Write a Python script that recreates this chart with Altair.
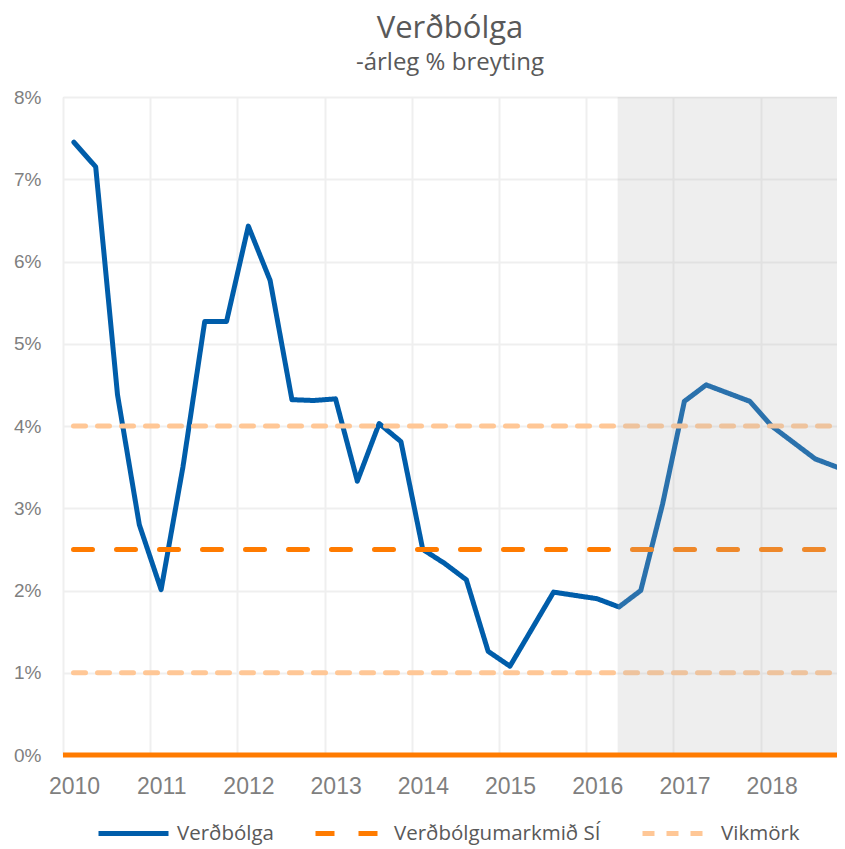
import altair as alt
import pandas as pd

# Quarterly observations / forecast (decimal year, annual % change)
quarters = [2010.125, 2010.375, 2010.625, 2010.875,
            2011.125, 2011.375, 2011.625, 2011.875,
            2012.125, 2012.375, 2012.625, 2012.875,
            2013.125, 2013.375, 2013.625, 2013.875,
            2014.125, 2014.375, 2014.625, 2014.875,
            2015.125, 2015.375, 2015.625, 2015.875,
            2016.125, 2016.375, 2016.625, 2016.875,
            2017.125, 2017.375, 2017.625, 2017.875,
            2018.125, 2018.375, 2018.625, 2018.875]
inflation = [7.45, 7.15, 4.38, 2.80,
             2.01, 3.50, 5.27, 5.27,
             6.43, 5.77, 4.32, 4.31,
             4.33, 3.33, 4.03, 3.81,
             2.50, 2.33, 2.13, 1.26,
             1.08, 1.53, 1.98, 1.94,
             1.90, 1.80, 2.00, 3.05,
             4.30, 4.50, 4.40, 4.30,
             4.00, 3.80, 3.60, 3.50]

series_names = ["Verðbólga", "Verðbólgumarkmið SÍ", "Vikmörk"]
series_colors = ["#005DAA", "#FF7B00", "#FFC796"]
series_dash = [[1, 0], [19, 24], [12, 12]]

target_value = 2.5
band_lower = 1.0
band_upper = 4.0
zero_value = [0.0]
forecast_start = [2016.36]
x_domain = [2010, 2018.875]
y_domain = [0, 8]
year_ticks = [2010, 2011, 2012, 2013, 2014, 2015, 2016, 2017, 2018]
pct_ticks = [0, 1, 2, 3, 4, 5, 6, 7, 8]

df_infl = pd.DataFrame({"x": quarters, "v": inflation, "series": series_names[0]})
df_target = pd.DataFrame({"x": x_domain, "v": [target_value, target_value], "series": series_names[1]})
df_band = pd.DataFrame({
    "x": x_domain + x_domain,
    "v": [band_lower, band_lower, band_upper, band_upper],
    "grp": ["low", "low", "high", "high"],
    "series": series_names[2],
})
df_shade = pd.DataFrame({"start": forecast_start, "end": [x_domain[1]], "lo": [y_domain[0]], "hi": [y_domain[1]]})
df_zero = pd.DataFrame({"v": zero_value})

label_font = "Liberation Sans"
text_font = "Open Sans"

x_axis = alt.Axis(values=year_ticks, format="d", title=None, grid=True, gridColor="#EFEFEF",
                  gridWidth=2, ticks=False, domain=False, labelFont=label_font, labelFontSize=23,
                  labelColor="#7F7F7F", labelPadding=20, labelOffset=11, labelFlush=False,
                  labelOverlap=False)
y_axis = alt.Axis(values=pct_ticks, labelExpr="datum.value + '%'", title=None, grid=True,
                  gridColor="#EFEFEF", gridWidth=2, ticks=False, domain=False, labelFont=label_font,
                  labelFontSize=19, labelColor="#7F7F7F", labelPadding=22, labelFlush=False)
x_scale = alt.Scale(domain=x_domain, nice=False, zero=False)
y_scale = alt.Scale(domain=y_domain, nice=False)

color_enc = alt.Color("series:N", title=None,
                      scale=alt.Scale(domain=series_names, range=series_colors),
                      legend=alt.Legend(orient="none", legendX=33, legendY=699, direction="horizontal",
                                        columns=3, symbolType="stroke", symbolSize=4900,
                                        symbolStrokeWidth=5, labelFont=text_font, labelFontSize=20.5,
                                        labelColor="#595959", labelOffset=6, columnPadding=31,
                                        labelLimit=400))
dash_enc = alt.StrokeDash("series:N", title=None,
                          scale=alt.Scale(domain=series_names, range=series_dash))

line = alt.Chart(df_infl).mark_line(strokeWidth=5, strokeJoin="round", strokeCap="round").encode(
    x=alt.X("x:Q", scale=x_scale, axis=x_axis),
    y=alt.Y("v:Q", scale=y_scale, axis=y_axis),
    color=color_enc,
    strokeDash=dash_enc,
)

target = alt.Chart(df_target).mark_line(strokeWidth=5, strokeCap="round", strokeDashOffset=32.5).encode(
    x=alt.X("x:Q", scale=x_scale, axis=x_axis),
    y=alt.Y("v:Q", scale=y_scale, axis=y_axis),
    color=color_enc,
    strokeDash=dash_enc,
)

band = alt.Chart(df_band).mark_line(strokeWidth=5, strokeCap="round", strokeDashOffset=13.5).encode(
    x=alt.X("x:Q", scale=x_scale, axis=x_axis),
    y=alt.Y("v:Q", scale=y_scale, axis=y_axis),
    detail="grp:N",
    color=color_enc,
    strokeDash=dash_enc,
)

shade = alt.Chart(df_shade).mark_rect(fill="#B6B6B6", opacity=0.23).encode(
    x=alt.X("start:Q", scale=x_scale, axis=x_axis),
    x2="end:Q",
    y=alt.Y("lo:Q", scale=y_scale, axis=y_axis),
    y2="hi:Q",
)

zero = alt.Chart(df_zero).mark_rule(strokeWidth=5, color="#FF7B00").encode(
    y=alt.Y("v:Q", scale=y_scale, axis=y_axis),
)

chart = alt.layer(line, target, band, shade, zero).properties(
    width=774,
    height=658,
    autosize=alt.AutoSizeParams(type="none"),
    padding={"left": 55, "top": 89, "right": 0, "bottom": 92},
    title=alt.TitleParams(text="Verðbólga", subtitle="-árleg % breyting", font=text_font,
                          fontSize=31, fontWeight="normal", color="#595959",
                          subtitleFont=text_font, subtitleFontSize=24, subtitleColor="#595959",
                          subtitlePadding=6, anchor="middle", offset=12),
).configure_view(stroke=None).configure(background="white")

chart.save("out.html", embed_options={"renderer": "svg", "actions": False})
